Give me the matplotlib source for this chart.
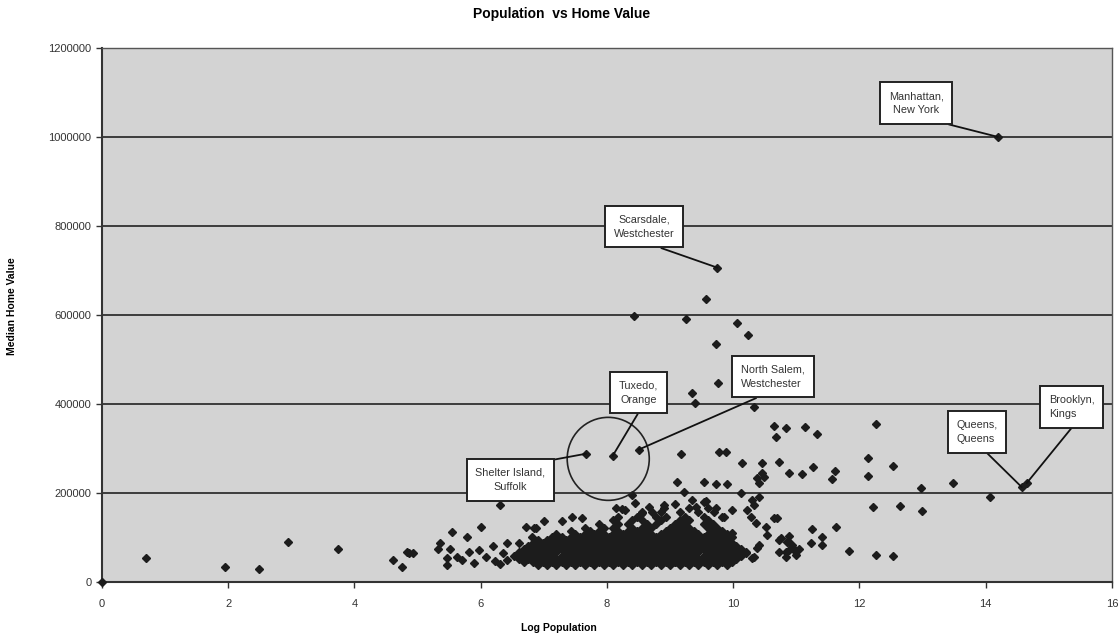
import matplotlib
matplotlib.use('Agg')
import matplotlib.pyplot as plt
from matplotlib.patches import Ellipse

plt.rcParams['font.family'] = ['Liberation Sans', 'DejaVu Sans']

# labelled places: (name, log population, median home value)
labels = ['Manhattan,\nNew York', 'Scarsdale,\nWestchester', 'Tuxedo,\nOrange',
          'North Salem,\nWestchester', 'Shelter Island,\nSuffolk',
          'Queens,\nQueens', 'Brooklyn,\nKings']
label_x = [14.19, 9.75, 8.09, 8.50, 7.67, 14.57, 14.65]
label_y = [1000000, 706000, 283000, 297000, 288000, 213000, 222000]

# scattered points
outlier_x = [0.0, 0.70, 1.95, 2.49, 2.94, 3.74, 4.61, 4.75, 4.83, 4.92, 4.87,
             5.54, 5.78, 6.00, 6.30, 5.35, 5.32, 5.51, 5.46, 5.47, 5.62, 5.71,
             5.82, 5.98, 6.09, 6.19, 6.35, 6.22, 6.41, 6.57, 6.72, 6.88, 7.01,
             7.28, 7.45, 6.61, 6.82, 6.41, 5.90, 6.30, 7.61, 8.15, 8.28, 8.40,
             8.45, 8.56, 8.72, 8.91, 6.85, 8.24, 8.54, 8.67, 9.22, 9.41, 9.57,
             9.73, 9.98, 10.13, 10.30, 10.41, 9.34, 9.07, 9.54, 9.86, 10.22,
             10.28, 10.36, 10.52, 10.65, 10.70, 10.54, 10.73, 10.85, 10.93,
             10.97, 10.89, 10.73, 10.41, 10.38, 10.33, 10.14, 10.21, 9.97, 9.62,
             9.38, 9.07, 9.98, 10.33, 11.25, 11.41, 11.63, 11.23, 11.41, 10.89,
             10.93, 10.84, 10.30, 9.75, 10.76, 10.87, 11.00, 10.84, 11.04, 11.84,
             12.26, 12.53, 12.22, 12.64, 12.99]
outlier_y = [0, 54000, 34000, 29000, 90000, 74000, 49000, 34000, 67000, 65000, 65000,
             112000, 101000, 124000, 173000, 88000, 74000, 74000, 54000, 38000, 56000, 49000,
             67000, 72000, 56000, 81000, 65000, 47000, 49000, 61000, 124000, 121000, 137000,
             137000, 146000, 88000, 101000, 88000, 42000, 40000, 144000, 166000, 162000, 195000,
             177000, 155000, 157000, 173000, 121000, 164000, 153000, 169000, 202000, 169000, 182000,
             166000, 162000, 200000, 184000, 191000, 184000, 175000, 180000, 146000, 162000,
             146000, 133000, 124000, 144000, 144000, 106000, 94000, 90000, 83000,
             72000, 72000, 67000, 83000, 76000, 56000, 67000, 65000, 72000, 52000,
             54000, 45000, 110000, 173000, 119000, 101000, 124000, 88000, 83000, 103000,
             79000, 67000, 54000, 76000, 99000, 92000, 61000, 56000, 74000, 70000,
             61000, 58000, 169000, 171000, 160000]

high_x = [9.18, 9.78, 9.89, 10.14, 10.46, 10.73, 10.89, 11.09, 11.27, 11.61, 11.57,
          10.65, 10.84, 10.67, 11.14, 11.33, 12.26, 12.14, 12.14, 12.53, 12.97, 13.48,
          14.07, 9.11, 9.53, 9.73, 9.90, 10.38, 10.46, 10.41, 10.49, 10.33,
          9.57, 8.43, 9.26, 10.06, 10.24, 9.73, 9.76, 9.35, 9.40]
high_y = [288000, 292000, 292000, 267000, 267000, 270000, 245000, 243000, 258000, 249000, 231000,
          350000, 346000, 326000, 348000, 333000, 355000, 279000, 238000, 261000, 211000, 222000,
          191000, 225000, 225000, 220000, 220000, 234000, 245000, 222000, 236000, 393000,
          636000, 598000, 591000, 582000, 555000, 535000, 447000, 425000, 402000]

# dense bulk of towns, read row by row (home value, log populations)
core_rows = [
    (38000, [6.9, 7.05, 7.2, 7.35, 7.5, 7.65, 7.8, 7.95, 8.1, 8.25, 8.4, 8.55, 8.7,
             8.85, 9.0, 9.15, 9.3, 9.45, 9.6, 9.75, 9.9]),
    (45000, [6.68, 6.83, 6.98, 7.13, 7.28, 7.43, 7.58, 7.73, 7.88, 8.03, 8.18, 8.33,
             8.48, 8.63, 8.78, 8.93, 9.08, 9.23, 9.38, 9.53, 9.68, 9.83, 9.98]),
    (52000, [6.6, 6.75, 6.9, 7.05, 7.2, 7.35, 7.5, 7.65, 7.8, 7.95, 8.1, 8.25, 8.4,
             8.55, 8.7, 8.85, 9.0, 9.15, 9.3, 9.45, 9.6, 9.75, 9.9, 10.05]),
    (59000, [6.53, 6.68, 6.83, 6.98, 7.13, 7.28, 7.43, 7.58, 7.73, 7.88, 8.03, 8.18,
             8.33, 8.48, 8.63, 8.78, 8.93, 9.08, 9.23, 9.38, 9.53, 9.68, 9.83, 9.98, 10.13]),
    (66000, [6.6, 6.75, 6.9, 7.05, 7.2, 7.35, 7.5, 7.65, 7.8, 7.95, 8.1, 8.25, 8.4,
             8.55, 8.7, 8.85, 9.0, 9.15, 9.3, 9.45, 9.6, 9.75, 9.9, 10.05, 10.2]),
    (73000, [6.68, 6.83, 6.98, 7.13, 7.28, 7.43, 7.58, 7.73, 7.88, 8.03, 8.18, 8.33,
             8.48, 8.63, 8.78, 8.93, 9.08, 9.23, 9.38, 9.53, 9.68, 9.83, 9.98, 10.13]),
    (80000, [6.75, 6.9, 7.05, 7.2, 7.35, 7.5, 7.65, 7.8, 7.95, 8.1, 8.25, 8.4, 8.55,
             8.7, 8.85, 9.0, 9.15, 9.3, 9.45, 9.6, 9.75, 9.9, 10.05]),
    (87000, [6.83, 6.98, 7.13, 7.28, 7.43, 7.58, 7.73, 7.88, 8.03, 8.18, 8.33, 8.48,
             8.63, 8.78, 8.93, 9.08, 9.23, 9.38, 9.53, 9.68, 9.83, 9.98]),
    (94000, [6.9, 7.05, 7.2, 7.35, 7.5, 7.65, 7.8, 7.95, 8.1, 8.25, 8.4, 8.55, 8.7,
             8.85, 9.0, 9.15, 9.3, 9.45, 9.6, 9.75, 9.9]),
    (101000, [7.13, 7.28, 7.43, 7.58, 7.73, 7.88, 8.03, 8.18, 8.33, 8.48, 8.63, 8.78,
              8.93, 9.08, 9.23, 9.38, 9.53, 9.68, 9.83, 9.98]),
    (108000, [7.2, 7.5, 7.65, 7.8, 7.95, 8.1, 8.25, 8.4, 8.55, 8.7, 8.85, 9.0, 9.15,
              9.3, 9.45, 9.6, 9.75, 9.9]),
    (115000, [7.43, 7.73, 7.88, 8.18, 8.33, 8.48, 8.63, 8.93, 9.08, 9.23,
              9.38, 9.68, 9.83]),
    (122000, [7.65, 7.95, 8.1, 8.4, 8.55, 8.7, 9.0, 9.15, 9.3, 9.6, 9.75]),
    (130000, [7.88, 8.18, 8.33, 8.63, 8.78, 9.08, 9.23, 9.53, 9.68]),
    (138000, [8.1, 8.4, 8.55, 8.85, 9.15, 9.3, 9.6]),
    (146000, [8.18, 8.48, 8.78, 8.93, 9.23, 9.53, 9.83]),
    (156000, [8.55, 8.85, 9.15, 9.45, 9.7]),
    (166000, [8.9, 9.3, 9.6]),
]

# label box centres and where the leader line leaves the box (fraction of box)
box_x = [12.90, 8.59, 8.50, 10.63, 6.47, 13.86, 15.36]
box_y = [1076000, 798000, 425000, 461000, 229000, 337000, 393000]
line_rel = [(0.42, 0), (0.34, 0), (0.62, 0), (0.57, 0), (0.48, 1), (0.52, 0), (0.66, 0)]
text_align = ['center', 'center', 'center', 'left', 'center', 'left', 'left']

core_x = [x for y, xs in core_rows for x in xs]
core_y = [y for y, xs in core_rows for x in xs]

fig = plt.figure(figsize=(11.18, 6.38), dpi=100)
ax = fig.add_axes([0.0912, 0.088, 0.9034, 0.837])
ax.set_facecolor('#d3d3d3')

mk = dict(marker='D', ls='none', ms=4.5, color='#1c1c1c', mec='#1c1c1c', zorder=3)
ax.plot(core_x, core_y, **mk)
ax.plot(outlier_x, outlier_y, clip_on=False, **mk)
ax.plot(high_x, high_y, **mk)
ax.plot(label_x, label_y, **mk)

ax.set_xlim(0, 16)
ax.set_ylim(0, 1200000)
ax.set_xticks(range(0, 17, 2))
ax.set_yticks(range(0, 1200001, 200000))
ax.ticklabel_format(style='plain', useOffset=False)
ax.yaxis.grid(True, color='#222222', lw=1.2)
ax.set_axisbelow(True)
ax.tick_params(labelsize=8, colors='#333333', length=4, width=1)
ax.tick_params(axis='x', pad=8)
for side in ['left', 'bottom']:
    ax.spines[side].set_color('#333333')
    ax.spines[side].set_linewidth(1.5)
for side in ['top', 'right']:
    ax.spines[side].set_color('#555555')
    ax.spines[side].set_linewidth(1.0)

ax.add_patch(Ellipse((8.02, 276400), 1.30, 186500, fill=False,
                     ec='#222222', lw=1.2, zorder=4))

for i in range(len(labels)):
    ax.annotate(labels[i], xy=(label_x[i], label_y[i]), xytext=(box_x[i], box_y[i]),
                ha='center', va='center', multialignment=text_align[i],
                fontsize=7.8, color='#333333', linespacing=1.5, zorder=5,
                bbox=dict(boxstyle='square,pad=0.8', fc='white', ec='#222222', lw=1.4),
                arrowprops=dict(arrowstyle='-', color='#111111', lw=1.3,
                                relpos=line_rel[i], shrinkA=0, shrinkB=0))

fig.text(0.502, 0.978, 'Population  vs Home Value', ha='center', va='center',
         fontsize=10, fontweight='bold')
fig.text(0.5, 0.016, 'Log Population', ha='center', va='center',
         fontsize=7.5, fontweight='bold')
fig.text(0.011, 0.52, 'Median Home Value', ha='center', va='center',
         rotation=90, fontsize=7.5, fontweight='bold')

fig.savefig('out.png', dpi=100)
